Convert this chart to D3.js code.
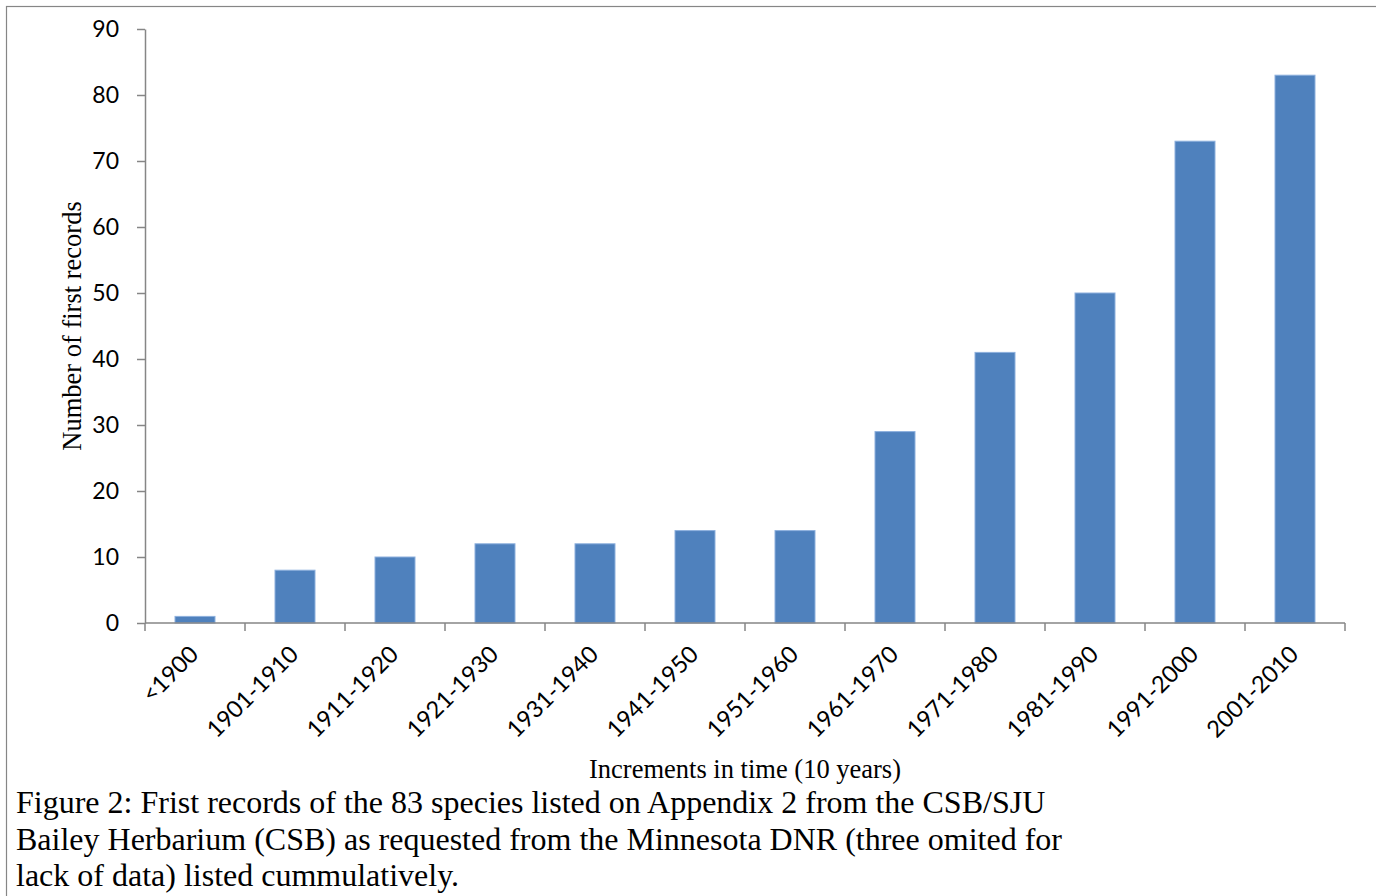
<!DOCTYPE html>
<html>
<head>
<meta charset="utf-8">
<script src="https://cdn.jsdelivr.net/npm/d3@7"></script>
<style>
  html, body { margin: 0; padding: 0; background: #fff; }
  svg { display: block; }
</style>
</head>
<body>
<svg id="chart" width="1376" height="896"></svg>
<script>
const categories = ["<1900", "1901-1910", "1911-1920", "1921-1930", "1931-1940", "1941-1950",
  "1951-1960", "1961-1970", "1971-1980", "1981-1990", "1991-2000", "2001-2010"];
const values = [1, 8, 10, 12, 12, 14, 14, 29, 41, 50, 73, 83];
const yTicks = [0, 10, 20, 30, 40, 50, 60, 70, 80, 90];
const yTitle = "Number of first records";
const xTitle = "Increments in time (10 years)";
const captionLines = [
  "Figure 2: Frist records of the 83 species listed on Appendix 2 from the CSB/SJU",
  "Bailey Herbarium (CSB) as requested from the Minnesota DNR (three omited for",
  "lack of data) listed cummulatively."
];

(function () {
const svg = d3.select("#chart");
const axisColor = "#868686";
const sans = "Lato, 'Open Sans', sans-serif";
const serif = "'Liberation Serif', 'Times New Roman', serif";

// outer frame (right and bottom edges lie outside the view)
svg.append("rect")
  .attr("x", 6.5).attr("y", 6.5)
  .attr("width", 1500).attr("height", 1000)
  .attr("fill", "none").attr("stroke", axisColor).attr("stroke-width", 1.2);

const pLeft = 145, pRight = 1345, pTop = 29, pBottom = 623;

const x = d3.scaleBand().domain(categories).range([pLeft, pRight])
  .paddingInner(0.6).paddingOuter(0.3);
const y = d3.scaleLinear().domain([0, 90]).range([pBottom, pTop]);

// bars
svg.append("g").selectAll("rect")
  .data(values)
  .join("rect")
  .attr("x", (d, i) => x(categories[i]))
  .attr("y", d => y(d))
  .attr("width", x.bandwidth())
  .attr("height", d => y(0) - y(d))
  .attr("fill", "#4F81BD")
  .attr("stroke", "#8DB0DD")
  .attr("stroke-width", 1);

// y axis
const yAxis = svg.append("g")
  .attr("transform", `translate(${pLeft},0)`)
  .call(d3.axisLeft(y).tickValues(yTicks).tickSize(8).tickPadding(18).tickSizeOuter(0));
yAxis.select(".domain").attr("stroke", axisColor).attr("stroke-width", 1.5);
yAxis.selectAll(".tick line").attr("stroke", axisColor).attr("stroke-width", 1.5);
yAxis.selectAll(".tick text")
  .attr("font-family", sans).attr("font-size", 23).attr("fill", "#000");

// x axis: boundary ticks between categories
const step = x.step();
const boundaries = d3.range(categories.length + 1).map(i => pLeft + i * step);
const xg = svg.append("g");
xg.append("line")
  .attr("x1", pLeft).attr("x2", pRight)
  .attr("y1", pBottom).attr("y2", pBottom)
  .attr("stroke", axisColor).attr("stroke-width", 1.5);
xg.selectAll("line.tk").data(boundaries).join("line")
  .attr("class", "tk")
  .attr("x1", d => d).attr("x2", d => d)
  .attr("y1", pBottom).attr("y2", pBottom + 8)
  .attr("stroke", axisColor).attr("stroke-width", 1.5);

xg.selectAll("text").data(categories).join("text")
  .attr("transform", d => `translate(${x(d) + x.bandwidth() / 2 - 1},${pBottom + 27}) rotate(-45)`)
  .attr("text-anchor", "end")
  .attr("dy", "0.35em")
  .attr("font-family", sans).attr("font-size", 23.5).attr("fill", "#000")
  .text(d => d);

// axis titles
svg.append("text")
  .attr("transform", `translate(81,326) rotate(-90)`)
  .attr("text-anchor", "middle")
  .attr("font-family", serif).attr("font-size", 26.5).attr("fill", "#000")
  .text(yTitle);

svg.append("text")
  .attr("x", 745).attr("y", 778)
  .attr("text-anchor", "middle")
  .attr("font-family", serif).attr("font-size", 26.5).attr("fill", "#000")
  .text(xTitle);

// caption
svg.append("g").selectAll("text").data(captionLines).join("text")
  .attr("x", 16)
  .attr("y", (d, i) => 813 + i * 36.5)
  .attr("font-family", serif).attr("font-size", 32).attr("fill", "#000")
  .text(d => d);
})();
</script>
</body>
</html>
